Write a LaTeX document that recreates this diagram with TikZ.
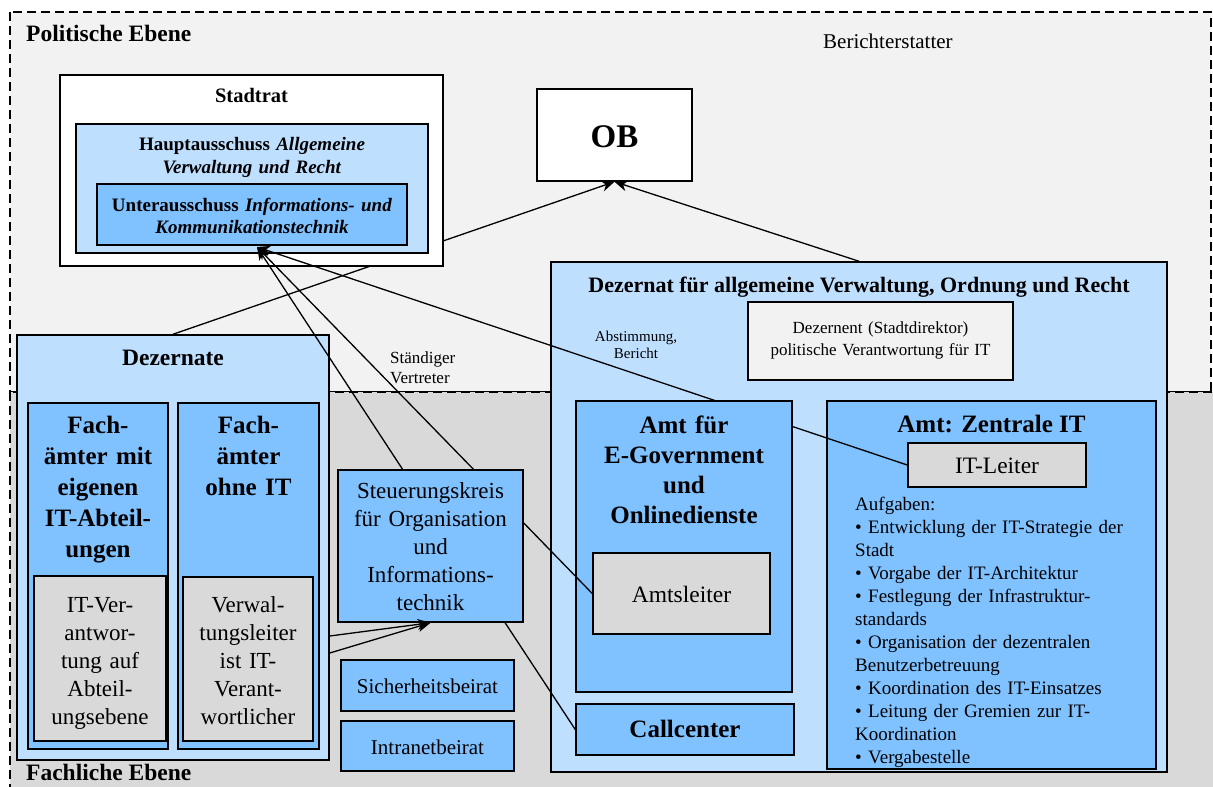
\documentclass[tikz,border=0pt]{standalone}
\usepackage{fontspec}
\setmainfont{Liberation Serif}
\usetikzlibrary{arrows.meta,fit,calc}

\definecolor{ltblue}{RGB}{191,223,255}
\definecolor{mdblue}{RGB}{128,193,255}
\definecolor{boxgray}{RGB}{217,217,217}
\definecolor{topgray}{RGB}{242,242,242}
\definecolor{lowgray}{RGB}{217,217,217}
\newcommand\fsz[2]{\fontsize{#1}{#2}\selectfont}

\begin{document}
\begin{tikzpicture}[x=1pt,y=-1pt,
  box/.style={draw=black, line width=1.5pt, inner sep=0pt},
  region/.style={draw=black, line width=1.2pt, dash pattern=on 9pt off 5pt},
  link/.style={draw=black, line width=1.3pt},
  arr/.style={link, -{Stealth[length=13pt,width=11pt,inset=4pt]}},
  lbl/.style={inner sep=0pt, anchor=base},
  mtext/.style={inner sep=0pt, anchor=base, align=center},
]
\useasboundingbox (0,0) rectangle (1213,787);
\clip (0,0) rectangle (1213,787);

% the two levels
\path[region, fill=topgray] (10,12) rectangle (1211,392);
\path[region, fill=lowgray] (10,392) rectangle (1225,800);
\node[lbl, anchor=base west, font=\bfseries\fsz{23.5}{27}] (polLabel) at (26,41) {Politische Ebene};
\node[lbl, anchor=base west, font=\bfseries\fsz{23.5}{27}] (fachLabel) at (26,780) {Fachliche Ebene};
\node[lbl, anchor=base west, font=\fsz{21}{25}] (berichter) at (823,48) {Berichterstatter};

% OB
\node[box, fill=white, fit={(537,89) (692,181)}] (ob) {};
\node[lbl, font=\bfseries\fsz{33}{38}] (obText) at (614.5,147) {OB};

% Dezernate with the Fachaemter
\node[box, fill=ltblue, fit={(17,335) (329,760)}] (dz) {};
\node[lbl, font=\bfseries\fsz{23.5}{27}] (dzText) at (173,365) {Dezernate};
\node[box, fill=mdblue, fit={(28,403) (168,749)}] (fachMit) {};
\node[box, fill=mdblue, fit={(178,403) (319,749)}] (fachOhne) {};
\node[mtext, text width=140pt, font=\bfseries\fsz{25}{31}] (fachMitText) at (98,433)
  {Fach-\\ämter mit\\eigenen\\IT-Abteil-\\ungen};
\node[mtext, text width=140pt, font=\bfseries\fsz{25}{31}] (fachOhneText) at (248.5,433)
  {Fach-\\ämter\\ohne IT};
\node[box, fill=boxgray, fit={(34,576) (166,741)}] (itVer) {};
\node[box, fill=boxgray, fit={(183,577) (313,741)}] (vwLeiter) {};
\node[mtext, text width=130pt, font=\fsz{23}{28}] (itVerText) at (100,612)
  {IT-Ver-\\antwor-\\tung auf\\Abteil-\\ungsebene};
\node[mtext, text width=130pt, font=\fsz{23}{28}] (vwLeiterText) at (248,612)
  {Verwal-\\tungsleiter\\ist IT-\\Verant-\\wortlicher};

\draw[arr] (dz.north) -- (ob.south);

% Stadtrat and its committees
\node[box, fill=white, fit={(60,75) (443,266)}] (stadtrat) {};
\node[lbl, font=\bfseries\fsz{20.5}{24}] (stadtratText) at (251.5,102) {Stadtrat};
\node[box, fill=ltblue, fit={(76,124) (428,253)}] (haupt) {};
\node[mtext, text width=340pt, font=\bfseries\fsz{19}{23}] (hauptText) at (252,150)
  {Hauptausschuss \textit{Allgemeine}\\\textit{Verwaltung und Recht}};
\node[box, fill=mdblue, fit={(97,184) (407,245)}] (ua) {};
\node[mtext, text width=300pt, font=\bfseries\fsz{19}{22.5}] (uaText) at (252,211)
  {Unterausschuss \textit{Informations- und}\\\textit{Kommunikationstechnik}};
\coordinate (uaTip) at (257,247);

% Dezernat fuer allgemeine Verwaltung, Ordnung und Recht
\node[box, fill=ltblue, fit={(551,262) (1167,772)}] (dzv) {};
\node[lbl, font=\bfseries\fsz{22}{26}] (dzvText) at (859,292)
  {Dezernat für allgemeine Verwaltung, Ordnung und Recht};
\node[box, fill=topgray, fit={(748,302) (1013,380)}] (dezernent) {};
\node[mtext, text width=260pt, font=\fsz{17}{22}] (dezernentText) at (880.5,333)
  {Dezernent (Stadtdirektor)\\politische Verantwortung für IT};
\draw[arr] (dzv.north) -- (ob.south);

% Amt: Zentrale IT
\node[box, fill=mdblue, fit={(827,401) (1156,769)}] (zit) {};
\node[lbl, font=\bfseries\fsz{25}{30}] (zitText) at (991.5,432) {Amt: Zentrale IT};
\node[box, fill=boxgray, fit={(908,443) (1086,487)}] (itl) {};
\node[lbl, font=\fsz{23.5}{28}] (itlText) at (997,473) {IT-Leiter};
\node[inner sep=0pt, anchor=base west, text width=290pt, align=left, font=\fsz{19}{23}] (aufg) at (855,510)
  {Aufgaben:\\
   • Entwicklung der IT-Strategie der\\
   Stadt\\
   • Vorgabe der IT-Architektur\\
   • Festlegung der Infrastruktur-\\
   standards\\
   • Organisation der dezentralen\\
   Benutzerbetreuung\\
   • Koordination des IT-Einsatzes\\
   • Leitung der Gremien zur IT-\\
   Koordination\\
   • Vergabestelle};

\draw[arr] (itl.west) -- (uaTip);

% Amt fuer E-Government und Onlinedienste
\node[box, fill=mdblue, fit={(576,401) (792,692)}] (egov) {};
\node[mtext, text width=210pt, font=\bfseries\fsz{25}{30}] (egovText) at (684,433)
  {Amt für\\E-Government\\und\\Onlinedienste};
\node[box, fill=boxgray, fit={(593,553) (770,634)}] (al) {};
\node[lbl, font=\fsz{23.5}{28}] (alText) at (681.5,602) {Amtsleiter};
\node[box, fill=mdblue, fit={(576,704) (794,755)}] (cc) {};
\node[lbl, font=\bfseries\fsz{25}{30}] (ccText) at (685,737) {Callcenter};

% Steuerungskreis and advisory boards
\node[box, fill=mdblue, fit={(338,470) (523,622)}] (sk) {};
\node[mtext, text width=185pt, font=\fsz{23}{28}] (skText) at (430.5,498)
  {Steuerungskreis\\für Organisation\\und\\Informations-\\technik};
\node[box, fill=mdblue, fit={(341,660) (514,711)}] (sicher) {};
\node[lbl, font=\fsz{21}{25}] (sicherText) at (427.5,693) {Sicherheitsbeirat};
\node[box, fill=mdblue, fit={(341,721) (514,771)}] (intra) {};
\node[lbl, font=\fsz{21}{25}] (intraText) at (427.5,754) {Intranetbeirat};

% connectors
\draw[arr] ($(sk.north west)!0.35!(sk.north east)$) -- (uaTip);
\draw[arr] ($(sk.north west)!0.73!(sk.north east)$) -- (uaTip);
\draw[link] ($(sk.east)+(0,-23)$) -- (al.west);
\draw[link] ($(sk.south west)!0.9!(sk.south east)$) -- (cc.west);
\draw[arr] ($(dz.east)+(0,88.5)$) -- (sk.south);
\draw[arr] ($(dz.east)+(0,105.5)$) -- (sk.south);

% connector labels
\node[mtext, text width=100pt, font=\fsz{15}{17}] (abstText) at (636,341) {Abstimmung,\\Bericht};
\node[inner sep=0pt, anchor=base west, text width=90pt, align=left, font=\fsz{17}{20}] (vertrText) at (390,363)
  {Ständiger\\Vertreter};
\end{tikzpicture}
\end{document}
